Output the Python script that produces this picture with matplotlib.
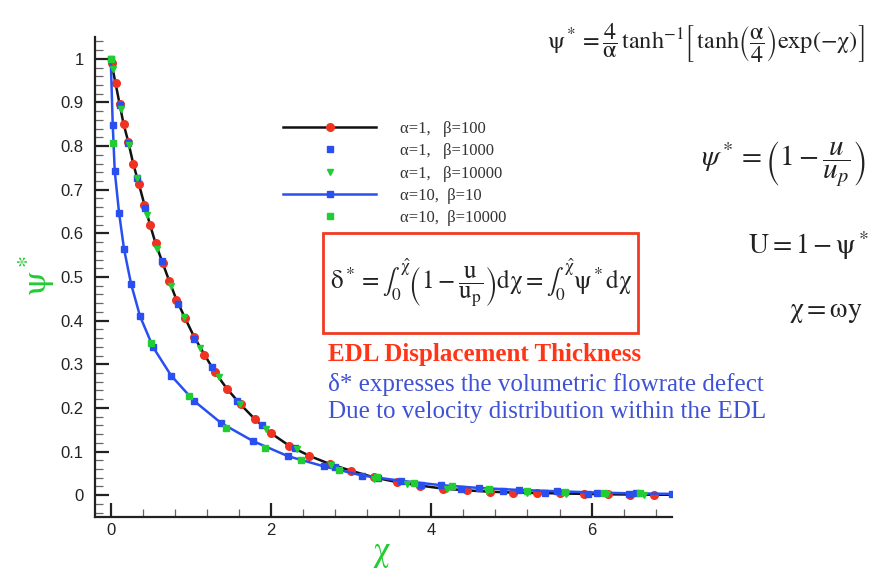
import matplotlib
matplotlib.use('Agg')
import matplotlib.pyplot as plt
from matplotlib.patches import Rectangle
from matplotlib.ticker import MultipleLocator, FuncFormatter

plt.rcParams['font.family'] = ['Liberation Sans', 'DejaVu Sans']
plt.rcParams['mathtext.fontset'] = 'stix'

# alpha=1, beta=100 : black line, red circles
chi_a1_b100 = [0.01, 0.06, 0.11, 0.16, 0.22, 0.28, 0.35, 0.42, 0.49, 0.56, 0.65, 0.73,
               0.82, 0.93, 1.04, 1.17, 1.30, 1.45, 1.62, 1.80, 2.00, 2.23, 2.48, 2.74,
               3.00, 3.28, 3.57, 3.86, 4.15, 4.45, 4.73, 5.02, 5.32, 5.61, 5.90, 6.20,
               6.48, 6.78, 7.00]
psi_a1_b100 = [0.990, 0.944, 0.897, 0.851, 0.809, 0.760, 0.714, 0.666, 0.620, 0.577, 0.531, 0.491,
               0.448, 0.405, 0.363, 0.322, 0.282, 0.244, 0.208, 0.174, 0.142, 0.113, 0.090, 0.071,
               0.056, 0.041, 0.030, 0.022, 0.015, 0.011, 0.008, 0.006, 0.005, 0.004, 0.003, 0.002,
               0.0015, 0.001, 0.001]

# alpha=1, beta=1000 : blue squares
chi_a1_b1000 = [0.112, 0.212, 0.325, 0.43, 0.641, 0.837, 1.045, 1.26, 1.575, 1.89, 2.30, 2.80,
                3.33, 3.87, 4.37, 4.90, 5.42, 5.95, 6.47]
psi_a1_b1000 = [0.894, 0.806, 0.728, 0.658, 0.536, 0.438, 0.359, 0.293, 0.215, 0.160, 0.107, 0.065,
                0.039, 0.024, 0.014, 0.009, 0.005, 0.003, 0.002]

# alpha=1, beta=10000 : green triangles
chi_a1_b10000 = [0.033, 0.125, 0.225, 0.325, 0.454, 0.583, 0.754, 0.916, 1.11, 1.345, 1.61, 1.94,
                 2.325, 2.75, 3.28, 3.70, 4.19, 4.69, 5.19, 5.68, 6.19, 6.66]
psi_a1_b10000 = [0.977, 0.885, 0.803, 0.726, 0.642, 0.564, 0.480, 0.409, 0.337, 0.270, 0.209, 0.151,
                 0.105, 0.069, 0.038, 0.025, 0.014, 0.009, 0.005, 0.003, 0.002, 0.001]

# alpha=10, beta=10 : blue line, blue squares
chi_a10_b10 = [0.0, 0.025, 0.05, 0.104, 0.166, 0.254, 0.366, 0.529, 0.754, 1.04, 1.38, 1.775,
               2.21, 2.66, 3.14, 3.62, 4.12, 4.60, 5.10, 5.57, 6.07, 6.55, 7.00]
psi_a10_b10 = [1.0, 0.849, 0.743, 0.647, 0.564, 0.484, 0.410, 0.339, 0.274, 0.216, 0.165, 0.124,
               0.0895, 0.066, 0.045, 0.033, 0.023, 0.0165, 0.012, 0.009, 0.006, 0.004, 0.003]

# alpha=10, beta=10000 : green squares
chi_a10_b10000 = [0.0, 0.025, 0.504, 0.979, 1.44, 1.92, 2.375, 2.85, 3.32, 3.78, 4.26, 4.72,
                  5.20, 5.67, 6.15, 6.60]
psi_a10_b10000 = [1.0, 0.807, 0.348, 0.227, 0.155, 0.109, 0.080, 0.057, 0.041, 0.028, 0.020, 0.0145,
                  0.010, 0.007, 0.005, 0.004]

labels = ['α=1,   β=100', 'α=1,   β=1000', 'α=1,   β=10000', 'α=10,  β=10', 'α=10,  β=10000']

RED = '#ee3322'
BLUE = '#2a4ff0'
GREEN = '#22cc33'
W, H = 874, 574

fig = plt.figure(figsize=(W / 100, H / 100), dpi=100)
ax = fig.add_axes([94.7 / W, 1 - 517 / H, 577 / W, 480 / H])

l1, = ax.plot(chi_a1_b100, psi_a1_b100, '-', color='#111111', lw=1.8, marker='o', ms=5.5,
              mfc=RED, mec=RED, markevery=slice(0, -1), label=labels[0], zorder=3)
l2, = ax.plot(chi_a1_b1000, psi_a1_b1000, ls='none', marker='s', ms=4.5, mfc=BLUE, mec=BLUE,
              label=labels[1], zorder=4)
l3, = ax.plot(chi_a1_b10000, psi_a1_b10000, ls='none', marker='v', ms=5, mfc=GREEN, mec=GREEN,
              label=labels[2], zorder=5)
l4, = ax.plot(chi_a10_b10, psi_a10_b10, '-', color=BLUE, lw=1.8, marker='s', ms=4.5,
              mfc=BLUE, mec=BLUE, label=labels[3], zorder=3)
l5, = ax.plot(chi_a10_b10000, psi_a10_b10000, ls='none', marker='s', ms=4.5, mfc=GREEN, mec=GREEN,
              label=labels[4], zorder=6)

ax.set_xlim(-0.2, 7.0)
ax.set_ylim(-0.05, 1.05)
ax.spines['top'].set_visible(False)
ax.spines['right'].set_visible(False)
for s in ('left', 'bottom'):
    ax.spines[s].set_linewidth(1.6)
    ax.spines[s].set_color('#222222')

ax.xaxis.set_major_locator(MultipleLocator(2))
ax.xaxis.set_minor_locator(MultipleLocator(0.4))
ax.yaxis.set_major_locator(MultipleLocator(0.1))
ax.yaxis.set_minor_locator(MultipleLocator(0.02))
ax.yaxis.set_major_formatter(FuncFormatter(lambda v, p: '%g' % round(v, 2)))
ax.tick_params(which='major', direction='in', length=10, width=1.6, color='#222222',
               labelsize=12, labelcolor='#222222')
ax.tick_params(which='minor', direction='in', length=5.5, width=0.9, color='#666666')
ax.tick_params(axis='y', which='major', pad=8)
ax.tick_params(axis='x', which='major', pad=4)

# axis titles
fig.text(37 / W, 1 - 276 / H, r'$\mathrm{\psi}^*$', color=GREEN, fontsize=25,
         rotation=90, ha='center', va='center')
fig.text(381 / W, 1 - 553 / H, r'$\mathrm{\chi}$', color=GREEN, fontsize=25,
         ha='center', va='center')

leg = ax.legend(handles=[l1, l2, l3, l4, l5], loc='upper left',
                bbox_to_anchor=(283 / W, 1 - 121 / H), bbox_transform=fig.transFigure,
                frameon=False, borderpad=0, borderaxespad=0, handlelength=5.6,
                handletextpad=1.4, labelspacing=0.38,
                prop={'family': 'Liberation Serif', 'size': 12})
for t in leg.get_texts():
    t.set_color('#333333')

# formulas on the right
fig.text(706 / W, 1 - 43 / H,
         r'$\mathrm{\psi}^* = \dfrac{4}{\mathrm{\alpha}}\,\mathrm{tanh}^{-1}'
         r'\left[\,\mathrm{tanh}\left(\dfrac{\mathrm{\alpha}}{4}\right)\mathrm{exp}(-\mathrm{\chi})\right]$',
         fontsize=17.5, ha='center', va='center', color='#222222')
fig.text(783 / W, 1 - 164 / H, r'$\psi^* = \left(1 - \dfrac{u}{u_p}\right)$',
         fontsize=21, ha='center', va='center', color='#222222')
fig.text(808 / W, 1 - 246 / H, r'$\mathrm{U} = 1 - \mathrm{\psi}^*$',
         fontsize=20, ha='center', va='center', color='#222222')
fig.text(826 / W, 1 - 312 / H, r'$\mathrm{\chi} = \mathrm{\omega y}$',
         fontsize=20, ha='center', va='center', color='#222222')

# boxed displacement thickness definition
fig.patches.append(Rectangle((323 / W, 1 - 333 / H), 315 / W, 100 / H,
                             transform=fig.transFigure, fill=False, ec='#f03a22', lw=2))
fig.text(481 / W, 1 - 283 / H,
         r'$\mathrm{\delta}^* = \int_0^{\hat{\mathrm{\chi}}}\left(1 - \dfrac{\mathrm{u}}{\mathrm{u_p}}\right)'
         r'\mathrm{d\chi} = \int_0^{\hat{\mathrm{\chi}}}\mathrm{\psi}^*\mathrm{d\chi}$',
         fontsize=18, ha='center', va='center', color='#222222')

fig.text(328 / W, 1 - 354 / H, 'EDL Displacement Thickness', family='Liberation Serif',
         weight='bold', fontsize=18, color='#ff3518', ha='left', va='center')
fig.text(328 / W, 1 - 384 / H, 'δ* expresses the volumetric flowrate defect',
         family='Liberation Serif', fontsize=18, color='#3f52d6', ha='left', va='center')
fig.text(328 / W, 1 - 412 / H, 'Due to velocity distribution within the EDL',
         family='Liberation Serif', fontsize=18, color='#3f52d6', ha='left', va='center')

fig.savefig('out.png', dpi=100)
